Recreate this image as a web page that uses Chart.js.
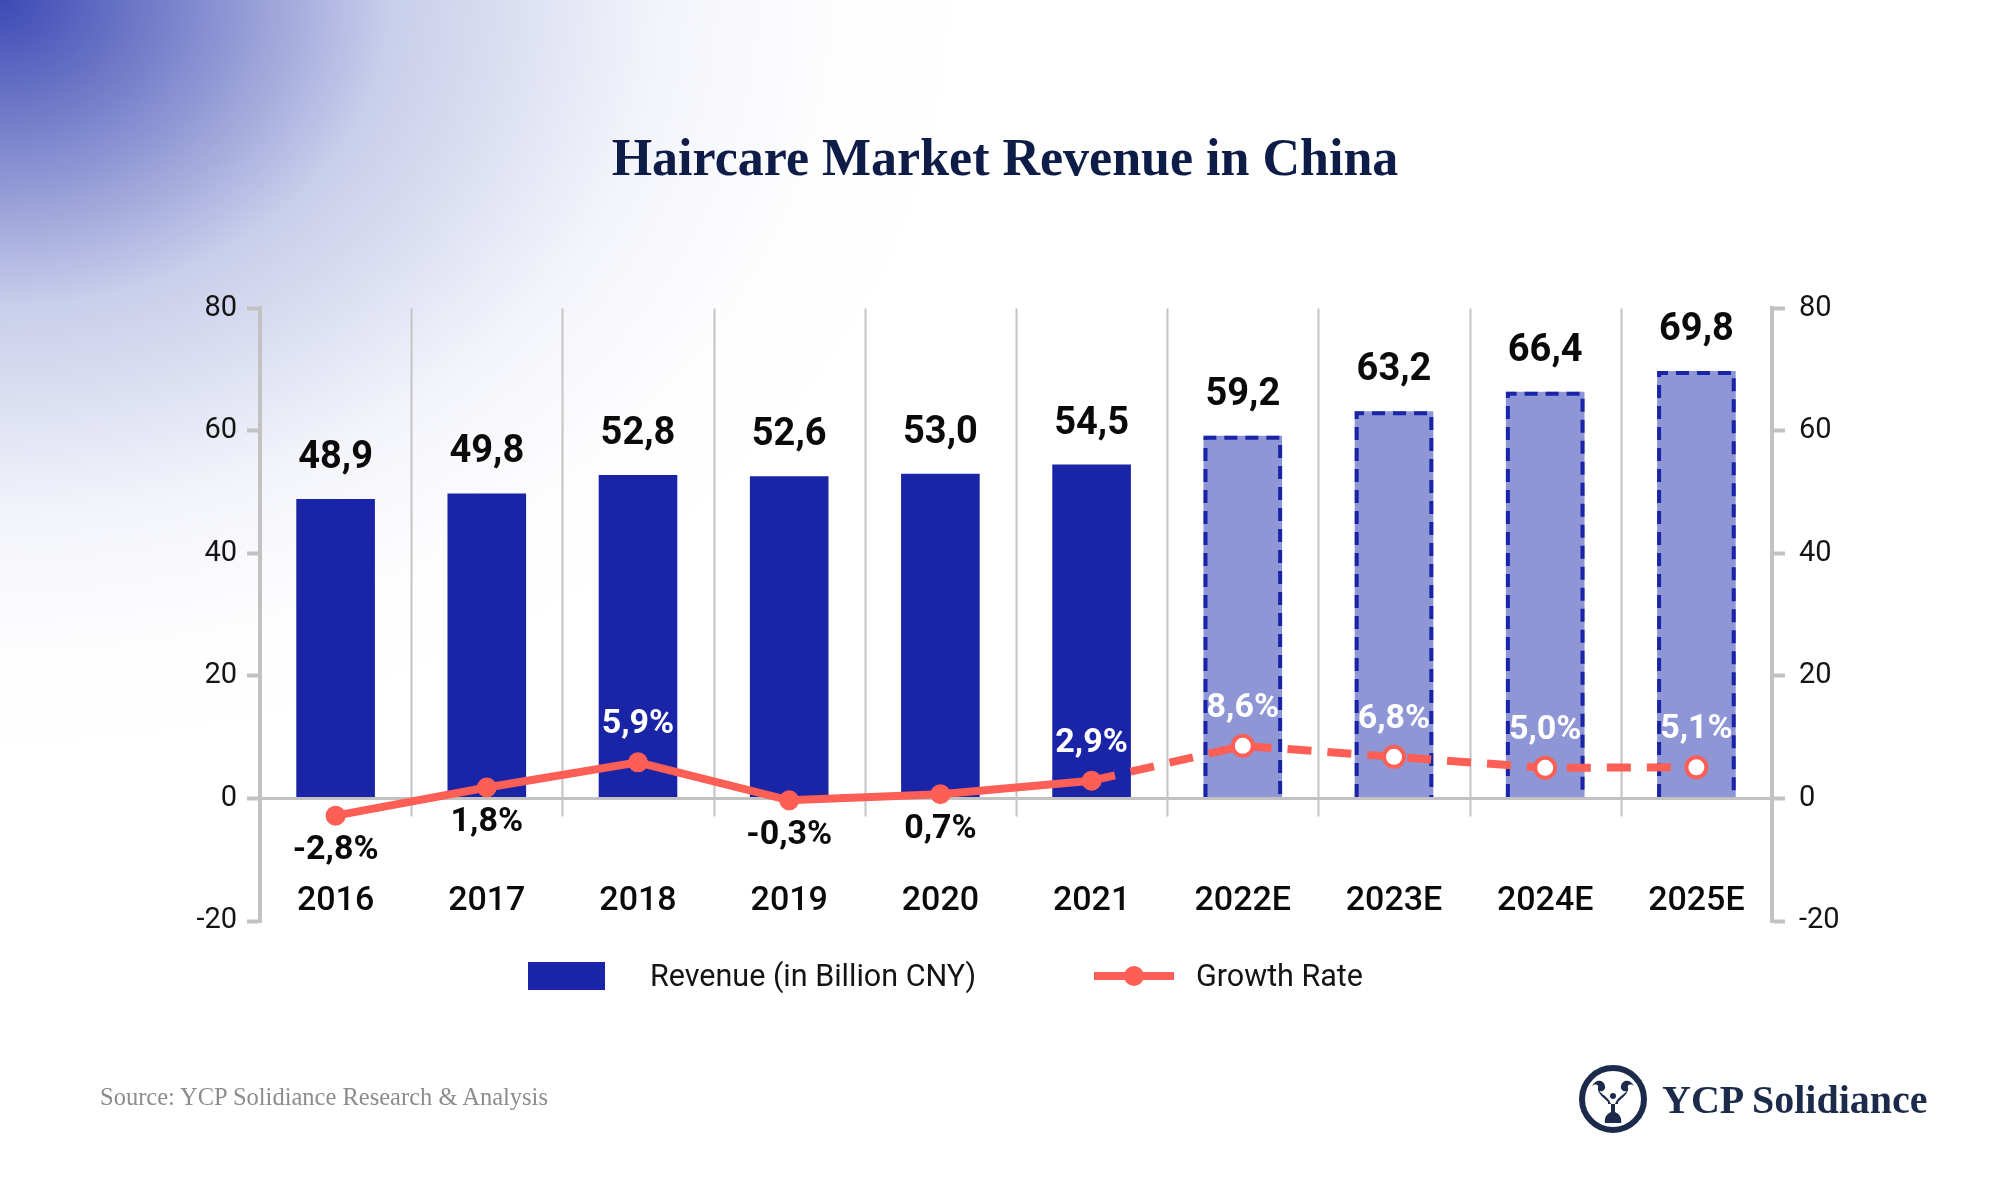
<!DOCTYPE html>
<html>
<head>
<meta charset="utf-8">
<title>Haircare Market Revenue in China</title>
<script src="https://cdn.jsdelivr.net/npm/chart.js@4.4.0/dist/chart.umd.min.js"></script>
<style>
  html, body { margin: 0; padding: 0; }
  body {
    width: 2010px; height: 1184px; position: relative; overflow: hidden;
    background: #fff; font-family: Roboto, sans-serif;
  }
  #bg {
    position: absolute; left: 0; top: 0; width: 2010px; height: 1184px;
    background:
      radial-gradient(ellipse 1150px 900px at 0% 0%,
        rgba(50, 64, 176, 0.95) 0%,
        rgba(74, 88, 186, 0.74) 15%,
        rgba(135, 146, 210, 0.45) 34%,
        rgba(205, 210, 236, 0.22) 58%,
        rgba(240, 241, 249, 0.08) 74%,
        rgba(255, 255, 255, 0) 86%);
  }
  #chartBox { position: absolute; left: 0; top: 0; width: 2010px; height: 1184px; }
  #legend { position: absolute; left: 0; top: 0; width: 2010px; height: 1184px; pointer-events: none; }
  .lg-item { position: absolute; top: 962px; height: 28px; }
  .lg-text { position: absolute; top: -5px; font-size: 30.5px; color: #141414; white-space: nowrap; line-height: 38px; }
  .lg-box { width: 77px; height: 28px; }
  .lg-line { position: relative; width: 80px; height: 28px; }
  .lg-line .bar { position: absolute; left: 0; top: 10px; width: 80px; height: 8px; }
  .lg-line .dot { position: absolute; left: 30px; top: 4px; width: 20px; height: 20px; border-radius: 50%; }
  #source {
    position: absolute; left: 100px; top: 1083px;
    font-family: "Liberation Serif", serif; font-size: 24.5px; color: #8c8c8c;
  }
  #logo { position: absolute; left: 1578px; top: 1064px; display: flex; align-items: center; }
  #logo span {
    margin-left: 14px; font-family: "Liberation Serif", serif; font-weight: bold;
    font-size: 40px; color: #1c2b4b;
  }
</style>
</head>
<body>
<div id="bg"></div>
<div id="chartBox"><canvas id="chart" width="2010" height="1184"></canvas></div>
<div id="legend"></div>
<div id="source">Source: YCP Solidiance Research &amp; Analysis</div>
<div id="logo">
  <svg width="70" height="70" viewBox="0 0 70 70">
    <circle cx="35" cy="35" r="31" fill="none" stroke="#1c2b4b" stroke-width="6"/>
    <path d="M14 22 C18 14 26 16 27 22 C28 26 24 28 21 27 C25 31 31 34 33 40 L33 48 C28 50 26 55 27 59 L43 59 C44 55 42 50 37 48 L37 40 C39 34 45 31 49 27 C46 28 42 26 43 22 C44 16 52 14 56 22 C52 19 49 21 50 24 C51 29 44 34 40 38 L40 40 L30 40 L30 38 C26 34 19 29 20 24 C21 21 18 19 14 22 Z" fill="#1c2b4b"/>
    <circle cx="35" cy="32" r="3" fill="#1c2b4b"/>
  </svg>
  <span>YCP Solidiance</span>
</div>

<script>
// data
const years = ['2016', '2017', '2018', '2019', '2020', '2021', '2022E', '2023E', '2024E', '2025E'];
const revenue = [48.9, 49.8, 52.8, 52.6, 53.0, 54.5, 59.2, 63.2, 66.4, 69.8];
const growth = [-2.8, 1.8, 5.9, -0.3, 0.7, 2.9, 8.6, 6.8, 5.0, 5.1];
const axisTicks = [-20, 0, 20, 40, 60, 80];

const BLUE = '#1a24a6';
const BLUE_LIGHT = '#8e96d5';
const CORAL = '#fd5f56';
const AXIS = '#c2c2c2';

const isForecast = i => years[i].endsWith('E');
const fmt = v => v.toFixed(1).replace('.', ',');

Chart.defaults.font.family = 'Roboto';
Chart.defaults.color = '#141414';

// vertikaaliset erotinviivat kategorioiden väliin (vain vähän nollaviivan alle)
const categoryLines = {
  id: 'categoryLines',
  beforeDatasetsDraw(chart) {
    const { ctx, chartArea, scales } = chart;
    const zero = scales.y.getPixelForValue(0);
    ctx.save();
    ctx.strokeStyle = '#c4c4c4';
    ctx.lineWidth = 2;
    for (let i = 1; i < years.length; i++) {
      const px = Math.round((scales.x.getPixelForValue(i - 1) + scales.x.getPixelForValue(i)) / 2) + 0.5;
      ctx.beginPath();
      ctx.moveTo(px, chartArea.top);
      ctx.lineTo(px, zero + 18);
      ctx.stroke();
    }
    ctx.restore();
  }
};

// ennustepylväille katkoviivareunus
const dashedBars = {
  id: 'dashedBars',
  afterDatasetDraw(chart, args) {
    if (chart.data.datasets[args.index].type !== 'bar') return;
    const ctx = chart.ctx;
    ctx.save();
    ctx.strokeStyle = BLUE;
    ctx.lineWidth = 4;
    ctx.setLineDash([13, 8]);
    args.meta.data.forEach((el, i) => {
      if (!isForecast(i)) return;
      const l = el.x - el.width / 2 + 2;
      const r = el.x + el.width / 2 - 2;
      const t = el.y + 2;
      ctx.beginPath();
      ctx.moveTo(l, el.base);
      ctx.lineTo(l, t);
      ctx.lineTo(r, t);
      ctx.lineTo(r, el.base);
      ctx.stroke();
    });
    ctx.restore();
  }
};

// arvotekstit pylväiden ja pisteiden viereen
const valueLabels = {
  id: 'valueLabels',
  afterDatasetsDraw(chart) {
    const ctx = chart.ctx;
    ctx.save();
    ctx.textAlign = 'center';
    chart.data.datasets.forEach((ds, di) => {
      const meta = chart.getDatasetMeta(di);
      meta.data.forEach((el, i) => {
        const v = ds.data[i];
        if (ds.type === 'bar') {
          ctx.font = 'bold 38px Roboto';
          ctx.fillStyle = '#0a0a0a';
          ctx.textBaseline = 'alphabetic';
          ctx.fillText(fmt(v), el.x, el.y - 31);
        } else {
          ctx.font = 'bold 34px Roboto';
          if (v > 2.5) {
            ctx.fillStyle = '#ffffff';
            ctx.textBaseline = 'alphabetic';
            ctx.fillText(fmt(v) + '%', el.x, el.y - 29);
          } else {
            ctx.fillStyle = '#0a0a0a';
            ctx.textBaseline = 'top';
            ctx.fillText(fmt(v) + '%', el.x, el.y + 18);
          }
        }
      });
    });
    ctx.restore();
  }
};

const yAxis = (position, width, padding) => ({
  type: 'linear',
  position,
  min: -20,
  max: 80,
  afterBuildTicks: s => { s.ticks = axisTicks.map(v => ({ value: v })); },
  afterFit: s => { s.width = width; },
  border: { display: true, color: AXIS, width: 4 },
  grid: {
    drawOnChartArea: position === 'left',
    color: c => (c.tick && c.tick.value === 0 ? AXIS : 'rgba(0,0,0,0)'),
    lineWidth: 3,
    tickColor: AXIS,
    tickWidth: 4,
    tickLength: 13
  },
  ticks: { font: { size: 29 }, color: '#141414', padding }
});

const chart = new Chart(document.getElementById('chart'), {
  type: 'bar',
  data: {
    labels: years,
    datasets: [
      {
        type: 'line',
        label: 'Growth Rate',
        data: growth,
        yAxisID: 'y1',
        order: 0,
        borderColor: CORAL,
        borderWidth: 8,
        tension: 0,
        segment: {
          borderDash: c => (isForecast(c.p1DataIndex) ? [24, 16] : undefined)
        },
        pointRadius: c => (isForecast(c.dataIndex) ? 10 : 8),
        pointBorderWidth: 4,
        pointBorderColor: CORAL,
        pointBackgroundColor: c => (isForecast(c.dataIndex) ? '#ffffff' : CORAL)
      },
      {
        type: 'bar',
        label: 'Revenue (in Billion CNY)',
        data: revenue,
        yAxisID: 'y',
        order: 1,
        backgroundColor: c => (isForecast(c.dataIndex) ? BLUE_LIGHT : BLUE),
        borderWidth: 0,
        barPercentage: 0.52,
        categoryPercentage: 1
      }
    ]
  },
  options: {
    responsive: false,
    animation: false,
    devicePixelRatio: 1,
    layout: { padding: { left: 0, right: 0, top: 0, bottom: 263 } },
    plugins: {
      legend: { display: false },
      tooltip: { enabled: false },
      title: {
        display: true,
        text: 'Haircare Market Revenue in China',
        color: '#0e1c48',
        font: { family: 'Liberation Serif', size: 52, weight: 'bold' },
        padding: { top: 130, bottom: 116 }
      }
    },
    scales: {
      x: {
        offset: true,
        grid: { display: false, drawTicks: false },
        border: { display: false },
        afterFit: s => { s.height = 0; },
        // vuosiluvut piirretään kuvaajan sisään, -20 viivan yläpuolelle
        ticks: { mirror: true, font: { size: 34, weight: '500' }, color: '#0a0a0a', padding: -1 }
      },
      y: yAxis('left', 260, 10),
      y1: yAxis('right', 238, 14)
    }
  },
  plugins: [categoryLines, dashedBars, valueLabels]
});

// selite HTML:nä datasarjojen nimistä
const legend = document.getElementById('legend');
const barDs = chart.data.datasets.find(d => d.type === 'bar');
const lineDs = chart.data.datasets.find(d => d.type === 'line');

const item1 = document.createElement('div');
item1.className = 'lg-item';
item1.style.left = '528px';
item1.innerHTML = `<div class="lg-box" style="background:${BLUE}"></div>` +
  `<div class="lg-text" style="left:122px">${barDs.label}</div>`;
legend.appendChild(item1);

const item2 = document.createElement('div');
item2.className = 'lg-item';
item2.style.left = '1094px';
item2.innerHTML = `<div class="lg-line"><div class="bar" style="background:${CORAL}"></div>` +
  `<div class="dot" style="background:${CORAL}"></div></div>` +
  `<div class="lg-text" style="left:102px">${lineDs.label}</div>`;
legend.appendChild(item2);
</script>
</body>
</html>
